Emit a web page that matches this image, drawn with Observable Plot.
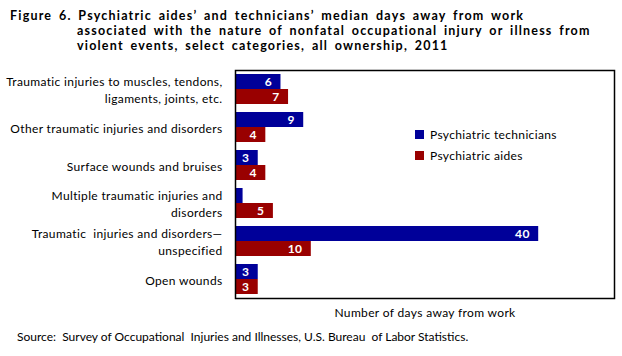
<!DOCTYPE html>
<html>
<head>
<meta charset="utf-8">
<script src="https://cdn.jsdelivr.net/npm/d3@7"></script>
<script src="https://cdn.jsdelivr.net/npm/@observablehq/plot@0.6"></script>
<style>
  html, body { margin: 0; padding: 0; background: #fff; }
  #wrap { position: relative; width: 622px; height: 356px; overflow: hidden; font-family: Lato, sans-serif; }
  #title { position: absolute; left: 10px; top: 7.5px; width: 612px; font-weight: bold; font-size: 12.5px; line-height: 15px; letter-spacing: 1.2px; word-spacing: 2.5px; padding-left: 67px; text-indent: -67px; color: #000; white-space: nowrap; }
  #chart { position: absolute; left: 0; top: 60px; }
  #legend { position: absolute; left: 415px; top: 127px; }
  #legend [class$="-swatch"] { margin-bottom: 5px; }
  #source { position: absolute; left: 17px; top: 329px; font-size: 12px; color: #000; }
</style>
</head>
<body>
<div id="wrap">
  <div id="title">Figure 6. Psychiatric aides’ and technicians’ median days away from work<br>associated with the nature of nonfatal occupational injury or illness from<br>violent events, select categories, all ownership, 2011</div>
  <div id="chart"></div>
  <div id="legend"></div>
  <div id="source">Source:&nbsp; Survey of Occupational&nbsp; Injuries and Illnesses, U.S. Bureau&nbsp; of Labor Statistics.</div>
</div>
<script>
const categories = [
  "Traumatic injuries to muscles, tendons, ligaments, joints, etc.",
  "Other traumatic injuries and disorders",
  "Surface wounds and bruises",
  "Multiple traumatic injuries and disorders",
  "Traumatic injuries and disorders—unspecified",
  "Open wounds"
];
const categoryLabels = [
  "Traumatic injuries to muscles, tendons,\nligaments, joints, etc.",
  "Other traumatic injuries and disorders",
  "Surface wounds and bruises",
  "Multiple traumatic injuries and\ndisorders",
  "Traumatic  injuries and disorders—\nunspecified",
  "Open wounds"
];
const series = ["Psychiatric technicians", "Psychiatric aides"];
const technicians = [6, 9, 3, 1, 40, 3];
const aides = [7, 4, 4, 5, 10, 3];
const colors = ["#000099", "#990000"];
const xLabel = "Number of days away from work";

const techRows = categories.map((c, i) => ({category: c, value: technicians[i]}));
const aideRows = categories.map((c, i) => ({category: c, value: aides[i]}));
const labelOf = new Map(categories.map((c, i) => [c, categoryLabels[i]]));

const valueText = {
  x: "value", y: "category", text: d => String(d.value),
  dx: -9, textAnchor: "end", fill: "white", fontWeight: "bold", fontSize: 12
};

const chart = Plot.plot({
  width: 622, height: 270,
  marginLeft: 235, marginRight: 8, marginTop: 10, marginBottom: 32,
  style: {fontFamily: "Lato, sans-serif", fontSize: "12px", letterSpacing: "0.35px", color: "#000", background: "transparent"},
  x: {domain: [0, 50], ticks: [], label: xLabel, labelAnchor: "center", labelOffset: 18, labelArrow: "none"},
  y: {domain: categories, padding: 0, axis: null},
  marks: [
    Plot.barX(techRows, {x: "value", y: "category", fill: colors[0], insetTop: 4, insetBottom: 19}),
    Plot.barX(aideRows, {x: "value", y: "category", fill: colors[1], insetTop: 19, insetBottom: 4}),
    Plot.text(techRows, {...valueText, dy: -7.5}),
    Plot.text(aideRows, {...valueText, dy: 7.5}),
    Plot.axisY({tickSize: 0, tickPadding: 13, tickFormat: d => labelOf.get(d), lineHeight: 1.4, fontSize: 12, label: null}),
    Plot.frame({stroke: "black", strokeWidth: 1.5})
  ]
});
document.getElementById("chart").appendChild(chart);

const legend = Plot.legend({
  color: {domain: series, range: colors},
  legend: "swatches", swatchSize: 9, columns: 1,
  style: {fontFamily: "Lato, sans-serif", fontSize: "12px", letterSpacing: "0.35px", color: "#000"}
});
document.getElementById("legend").appendChild(legend);
</script>
</body>
</html>
